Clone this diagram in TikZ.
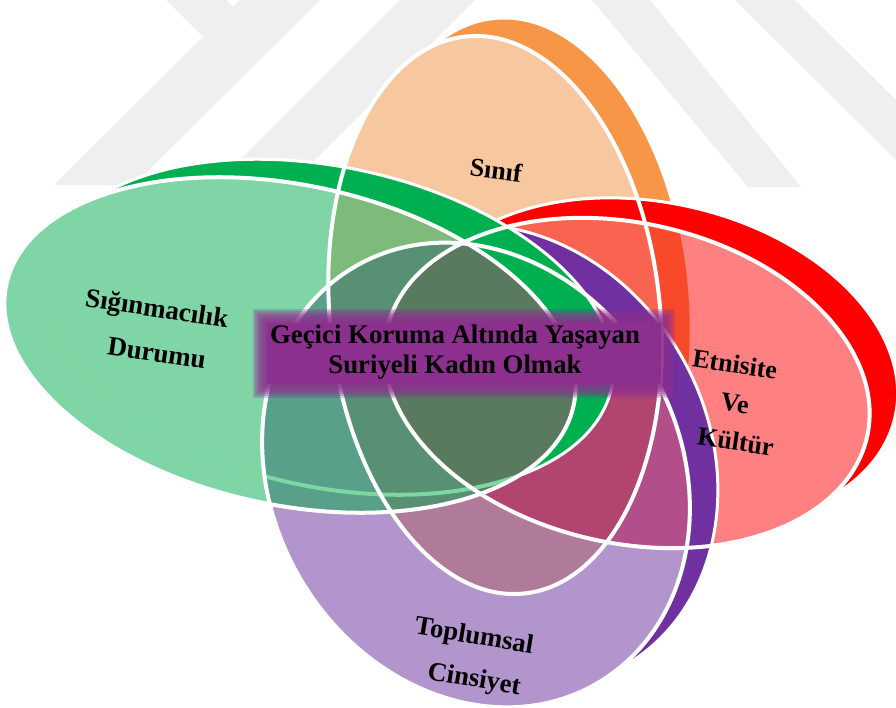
\documentclass[tikz,border=0pt]{standalone}
\usepackage{fontspec}
\setmainfont{Liberation Serif}
\definecolor{cG}{HTML}{80D5A6}
\definecolor{cO}{HTML}{F7C8A0}
\definecolor{cR}{HTML}{FF8080}
\definecolor{cP}{HTML}{B395CD}
\definecolor{cGO}{HTML}{7EBB7B}
\definecolor{cGR}{HTML}{5A8A6A}
\definecolor{cGP}{HTML}{58A08A}
\definecolor{cOR}{HTML}{F86450}
\definecolor{cOP}{HTML}{B07A9A}
\definecolor{cRP}{HTML}{B24F8B}
\definecolor{cGOR}{HTML}{4F8A78}
\definecolor{cGOP}{HTML}{589073}
\definecolor{cGRP}{HTML}{5A7A60}
\definecolor{cORP}{HTML}{B24570}
\definecolor{cGORP}{HTML}{5A7A60}
\definecolor{bG}{HTML}{00B050}
\definecolor{bO}{HTML}{F79646}
\definecolor{bR}{HTML}{FF0000}
\definecolor{bP}{HTML}{7030A0}
\definecolor{bOR}{HTML}{F84A2A}
\definecolor{mintline}{HTML}{7ED6A2}
\definecolor{cBox}{HTML}{8C2F8E}
\definecolor{wm}{HTML}{EFEFEF}
\tikzset{
 fG/.style={rotate around={-12:(290,345)}},
 bGs/.style={rotate around={-12:(328,327)}},
 rG/.style={x radius=290pt, y radius=160pt},
 fO/.style={rotate around={6:(495,315)}},
 bOs/.style={rotate around={6:(523,297)}},
 rO/.style={x radius=165pt, y radius=280pt},
 fR/.style={rotate around={-12.6:(627,383)}},
 bRs/.style={rotate around={-12.6:(655,363)}},
 rR/.style={x radius=246pt, y radius=160pt},
 fP/.style={rotate around={30:(476,475)}},
 bPs/.style={rotate around={30:(504,457)}},
 rP/.style={x radius=204pt, y radius=241pt},
 lbl/.style={font=\fontsize{26}{30}\selectfont\bfseries, text=black, inner sep=0pt, align=center},
 mainlbl/.style={font=\fontsize{26.8}{30}\selectfont\bfseries, text=black, inner sep=0pt},
 wline/.style={draw=white, line width=4pt},
 bline/.style={draw=white, line width=3pt},
}
\newcommand\ClipG{\clip[fG] (290,345) ellipse [rG];}
\newcommand\ClipO{\clip[fO] (495,315) ellipse [rO];}
\newcommand\ClipR{\clip[fR] (627,383) ellipse [rR];}
\newcommand\ClipP{\clip[fP] (476,475) ellipse [rP];}
\newcommand\OutG{\clip[fG] (290,345) ellipse [rG] (-2000,-2000) rectangle (3000,3000);}
\newcommand\OutO{\clip[fO] (495,315) ellipse [rO] (-2000,-2000) rectangle (3000,3000);}
\newcommand\OutR{\clip[fR] (627,383) ellipse [rR] (-2000,-2000) rectangle (3000,3000);}
\newcommand\OutP{\clip[fP] (476,475) ellipse [rP] (-2000,-2000) rectangle (3000,3000);}
\newcommand\Paint[1]{\fill[#1] (-10,-10) rectangle (906,718);}
\begin{document}
\begin{tikzpicture}[x=1pt,y=-1pt]
\useasboundingbox (0,0) rectangle (896,708);
\fill[white] (0,0) rectangle (896,708);
% watermark
\fill[wm] (54,185) -- (134,185) -- (320,0) -- (240,0) -- cycle;
\fill[wm] (166,0) -- (226,0) -- (268,42) -- (208,42) -- cycle;
\fill[wm] (215,185) -- (290,185) -- (475,0) -- (400,0) -- cycle;
\fill[wm] (592,0) -- (650,0) -- (801,187) -- (748,187) -- cycle;
\fill[wm] (735,0) -- (795,0) -- (896,100) -- (896,160) -- cycle;
% front faces: singles
\begin{scope}\ClipG\Paint{cG}\end{scope}
\begin{scope}\ClipO\Paint{cO}\end{scope}
\begin{scope}\ClipR\Paint{cR}\end{scope}
\begin{scope}\ClipP\Paint{cP}\end{scope}
% pairs
\begin{scope}\ClipG\ClipO\Paint{cGO}\end{scope}
\begin{scope}\ClipG\ClipR\Paint{cGR}\end{scope}
\begin{scope}\ClipG\ClipP\Paint{cGP}\end{scope}
\begin{scope}\ClipO\ClipR\Paint{cOR}\end{scope}
\begin{scope}\ClipO\ClipP\Paint{cOP}\end{scope}
\begin{scope}\ClipR\ClipP\Paint{cRP}\end{scope}
% triples
\begin{scope}\ClipG\ClipO\ClipR\Paint{cGOR}\end{scope}
\begin{scope}\ClipG\ClipO\ClipP\Paint{cGOP}\end{scope}
\begin{scope}\ClipG\ClipR\ClipP\Paint{cGRP}\end{scope}
\begin{scope}\ClipO\ClipR\ClipP\Paint{cORP}\end{scope}
% all four
\begin{scope}\ClipG\ClipO\ClipR\ClipP\Paint{cGORP}\end{scope}
% faint edge of the green back face seen through the front
\begin{scope}\ClipG
 \draw[mintline, line width=4pt, bGs] (328,327) ellipse [rG];
\end{scope}
% orange depth
\begin{scope}[even odd rule]
 \OutO\OutP\OutG
 \begin{scope}
  \clip[bOs] (523,297) ellipse [rO];
  \Paint{bO}
  \ClipR\Paint{bOR}
 \end{scope}
 \OutR
 \draw[bline, bOs] (523,297) ellipse [rO];
\end{scope}
% red depth
\begin{scope}[even odd rule]
 \OutR\OutP\OutG
 \begin{scope}\clip[bRs] (655,363) ellipse [rR]; \Paint{bR}\end{scope}
 \draw[bline, bRs] (655,363) ellipse [rR];
\end{scope}
% purple depth
\begin{scope}[even odd rule]
 \OutP\OutG
 \begin{scope}\clip[bPs] (504,457) ellipse [rP]; \Paint{bP}\end{scope}
 \draw[bline, bPs] (504,457) ellipse [rP];
\end{scope}
% green depth
\begin{scope}[even odd rule]
 \OutG
 \begin{scope}\clip[bGs] (328,327) ellipse [rG]; \Paint{bG}\end{scope}
 \draw[bline, bGs] (328,327) ellipse [rG];
\end{scope}
% front outlines
\draw[wline, fG] (290,345) ellipse [rG];
\draw[wline, fO] (495,315) ellipse [rO];
\draw[wline, fR] (627,383) ellipse [rR];
\draw[wline, fP] (476,475) ellipse [rP];
% central box with soft edge
\foreach \d in {9,7,5,3,1,-1,-3} {
  \fill[cBox, fill opacity=0.28] ({262-\d},{318-\d}) rectangle ({666+\d},{389+\d});
}
\fill[cBox] (267,323) rectangle (661,384);
\node[mainlbl, anchor=base] (tA) at (455,343) {Geçici Koruma Altında Yaşayan};
\node[mainlbl, anchor=base] (tB) at (455,373) {Suriyeli Kadın Olmak};
% labels
\node[lbl, rotate=-7] (sinif) at (496,170) {Sınıf};
\node[lbl, rotate=-8.5, font=\fontsize{27}{44}\selectfont\bfseries] (sig) at (157,330)
  {Sığınmacılık\hspace*{6.5pt}\\\hspace*{6.5pt}Durumu};
\node[lbl, rotate=-8.5, font=\fontsize{26}{38.1}\selectfont\bfseries] (etn) at (735,403)
  {Etnisite\hspace*{11.4pt}\\Ve\\\hspace*{13pt}Kültür};
\node[lbl, rotate=-9.5, font=\fontsize{26.8}{42.4}\selectfont\bfseries] (topl) at (474,659)
  {Toplumsal\hspace*{7pt}\\\hspace*{7pt}Cinsiyet};
\end{tikzpicture}
\end{document}
